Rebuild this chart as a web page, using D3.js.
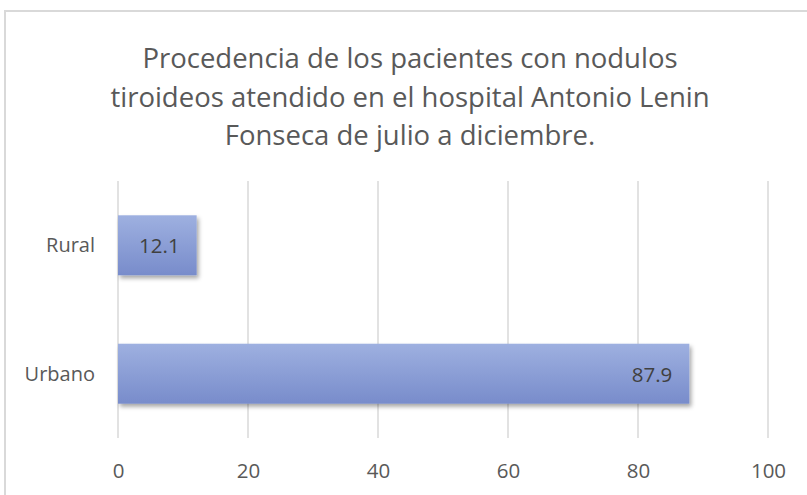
<!DOCTYPE html>
<html>
<head>
<meta charset="utf-8">
<script src="https://cdn.jsdelivr.net/npm/d3@7"></script>
<style>
  body { margin: 0; background: #fff; }
  svg { display: block; font-family: "Open Sans", sans-serif; }
</style>
</head>
<body>
<div id="chart"></div>
<script>
const categories = ['Rural', 'Urbano']
const values = [12.1, 87.9]
const xTicks = [0, 20, 40, 60, 80, 100]
const titleLines = [
  'Procedencia de los pacientes con nodulos',
  'tiroideos atendido en el hospital Antonio Lenin',
  'Fonseca de julio a diciembre.'
]

const width = 807
const height = 495
const plot = { left: 118, right: 768, top: 181, bottom: 438 }

const svg = d3.select('#chart').append('svg')
  .attr('width', width)
  .attr('height', height)

const defs = svg.append('defs')
const grad = defs.append('linearGradient')
  .attr('id', 'barGrad')
  .attr('x1', 0).attr('y1', 0).attr('x2', 0).attr('y2', 1)
grad.append('stop').attr('offset', '0%').attr('stop-color', '#9eb0e0')
grad.append('stop').attr('offset', '100%').attr('stop-color', '#788ccb')

const shadow = defs.append('filter')
  .attr('id', 'shadow')
  .attr('x', '-10%').attr('y', '-20%').attr('width', '130%').attr('height', '160%')
shadow.append('feDropShadow')
  .attr('dx', 2).attr('dy', 3).attr('stdDeviation', 2)
  .attr('flood-color', '#000').attr('flood-opacity', 0.35)

// chart border
svg.append('rect')
  .attr('x', 5).attr('y', 11)
  .attr('width', width).attr('height', height)
  .attr('fill', 'none')
  .attr('stroke', '#d9d9d9')
  .attr('stroke-width', 2)

const title = svg.append('text')
  .attr('text-anchor', 'middle')
  .attr('fill', '#595959')
  .attr('font-size', 27.5)
title.selectAll('tspan')
  .data(titleLines)
  .enter().append('tspan')
  .attr('x', 410)
  .attr('y', (d, i) => 68 + i * 38.5)
  .text(d => d)

const x = d3.scaleLinear().domain([0, 100]).range([plot.left, plot.right])
const y = d3.scaleBand().domain(categories).range([plot.top, plot.bottom]).paddingInner(0.533).paddingOuter(0.267)

// gridlines
svg.append('g')
  .selectAll('line')
  .data(xTicks)
  .enter().append('line')
  .attr('x1', d => x(d)).attr('x2', d => x(d))
  .attr('y1', plot.top).attr('y2', plot.bottom)
  .attr('stroke', '#d9d9d9')
  .attr('stroke-width', 1.5)

// bars
svg.append('g')
  .selectAll('rect')
  .data(categories)
  .enter().append('rect')
  .attr('x', x(0))
  .attr('y', d => y(d))
  .attr('width', (d, i) => x(values[i]) - x(0))
  .attr('height', y.bandwidth())
  .attr('fill', 'url(#barGrad)')
  .attr('filter', 'url(#shadow)')

// value labels
svg.append('g')
  .selectAll('text')
  .data(categories)
  .enter().append('text')
  .attr('x', (d, i) => x(values[i]) - 17)
  .attr('y', d => y(d) + y.bandwidth() / 2 + 8)
  .attr('text-anchor', 'end')
  .attr('fill', '#404040')
  .attr('font-size', 20.5)
  .text((d, i) => values[i])

// x axis
const xAxis = svg.append('g')
  .attr('transform', 'translate(0,' + plot.bottom + ')')
  .call(d3.axisBottom(x).tickValues(xTicks).tickSize(0).tickPadding(0))
xAxis.select('.domain').remove()
xAxis.selectAll('text')
  .attr('dy', null)
  .attr('y', 40)
  .attr('fill', '#595959')
  .attr('font-size', 20.5)
  .attr('font-family', '"Open Sans", sans-serif')

// y axis
const yAxis = svg.append('g')
  .attr('transform', 'translate(' + (plot.left - 23) + ',0)')
  .call(d3.axisLeft(y).tickSize(0).tickPadding(0))
yAxis.select('.domain').remove()
yAxis.selectAll('text')
  .attr('dy', null)
  .attr('y', 7)
  .attr('fill', '#595959')
  .attr('font-size', 20)
  .attr('font-family', '"Open Sans", sans-serif')
</script>
</body>
</html>
